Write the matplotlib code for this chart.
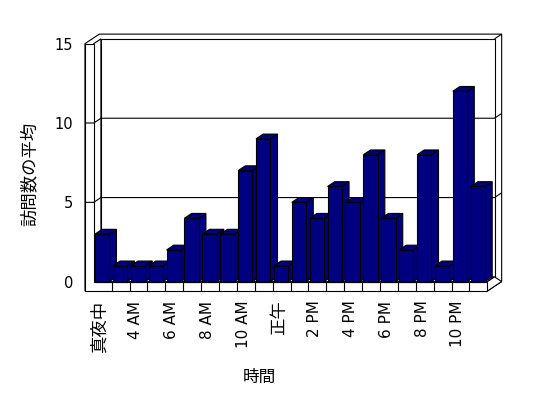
import matplotlib
matplotlib.use('Agg')
import matplotlib.pyplot as plt
from matplotlib.patches import Polygon

plt.rcParams['font.family'] = ['DejaVu Sans', 'Noto Sans CJK JP']

# data
hour_labels = ['真夜中', '', '4 AM', '', '6 AM', '', '8 AM', '', '10 AM', '', '正午', '',
               '2 PM', '', '4 PM', '', '6 PM', '', '8 PM', '', '10 PM', '']
avg_visits = [3, 1, 1, 1, 2, 4, 3, 3, 7, 9, 1, 5, 4, 6, 5, 8, 4, 2, 8, 1, 12, 6]
y_ticks = [0, 5, 10, 15]

navy = '#000080'
n = len(avg_visits)
ymax = y_ticks[-1]
dx, dy = 0.40, 0.30     # one step of depth
wall = 0.49             # left wall thickness
base = 0.59             # floor thickness
bar_off, bar_w = 0.07, 0.80
lw = 0.8

fig = plt.figure(figsize=(5.48, 3.98), dpi=100)
ax = fig.add_axes([0, 0, 1, 1])
ax.set_xlim(-5.24, 25.39)
ax.set_ylim(-7.33, 17.75)
ax.axis('off')


def poly(pts, fc='white', z=1):
    ax.add_patch(Polygon(pts, closed=True, facecolor=fc, edgecolor='black',
                         linewidth=lw, zorder=z, joinstyle='miter'))


def line(xs, ys, z=3):
    ax.plot(xs, ys, color='black', linewidth=lw, zorder=z, solid_capstyle='butt')


# walls and floor
poly([(-wall, -base), (-wall, ymax), (-wall + 2 * dx, ymax + 2 * dy),
      (n + 2 * dx, ymax + 2 * dy), (n + 2 * dx, -base + 2 * dy), (n, -base)])
poly([(dx, dy), (dx, ymax + dy), (n + dx, ymax + dy), (n + dx, dy)], z=2)
poly([(0, 0), (0, ymax), (dx, ymax + dy), (dx, dy)], z=2)
poly([(0, 0), (n, 0), (n + dx, dy), (dx, dy)], z=2)
poly([(n, -base), (n, 0), (n + dx, dy), (n + 2 * dx, -base + 2 * dy)], z=2)
poly([(-wall, -base), (-wall, ymax), (0, ymax), (0, 0), (n, 0), (n, -base)], z=2)
line([n + dx, n + 2 * dx], [ymax + dy, ymax + 2 * dy])

# gridlines
for v in y_ticks[1:-1]:
    line([-wall, 0, dx, n + dx, n + 2 * dx], [v, v, v + dy, v + dy, v + 2 * dy])

# floor dividers
for i in range(1, n):
    line([i, i], [-base, 0])

# bars, left to right so the next front face covers the side
for i, v in enumerate(avg_visits):
    x0 = i + bar_off
    x1 = x0 + bar_w
    z = 10 + i
    poly([(x1, 0), (x1 + dx, dy), (x1 + dx, v + dy), (x1, v)], fc=navy, z=z)
    poly([(x0, v), (x1, v), (x1 + dx, v + dy), (x0 + dx, v + dy)], fc=navy, z=z)
    poly([(x0, 0), (x1, 0), (x1, v), (x0, v)], fc=navy, z=z)

# tick labels
for v in y_ticks:
    ax.text(-wall - 0.67, v - 0.1, str(v), ha='right', va='center', fontsize=10.5)
for i, lab in enumerate(hour_labels):
    if lab:
        size = 11 if lab.isascii() else 12.5
        ax.text(i + 0.35, -base - 0.6, lab, rotation=90, ha='center', va='top', fontsize=size)

fig.text(0.055, 0.563, '訪問数の平均', rotation=90, ha='center', va='center', fontsize=12.5)
fig.text(0.474, 0.052, '時間', ha='center', va='center', fontsize=12)

fig.savefig('out.png', dpi=100)
